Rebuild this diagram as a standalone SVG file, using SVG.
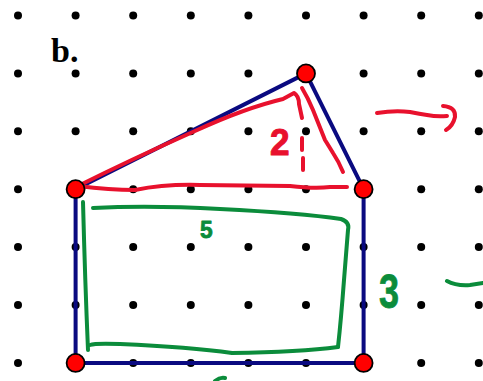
<svg xmlns="http://www.w3.org/2000/svg" width="483" height="381" viewBox="0 0 483 381">
<style>
.dot{fill:#000}
.blue{stroke:#0a0a80;stroke-width:4;fill:none;stroke-linecap:round;stroke-linejoin:round}
.red{stroke:#e8112d;stroke-width:4;fill:none;stroke-linecap:round;stroke-linejoin:round}
.green{stroke:#0b8c3b;stroke-width:4;fill:none;stroke-linecap:round;stroke-linejoin:round}
.vtx{fill:#ff0000;stroke:#000;stroke-width:1.8}
.hand{font-family:"Liberation Sans","DejaVu Sans",sans-serif;font-weight:bold;stroke-linejoin:round}
</style>
<defs>
<g id="row">
<circle class="dot" cx="18" cy="0" r="4"/><circle class="dot" cx="75.6" cy="0" r="4"/><circle class="dot" cx="133.2" cy="0" r="4"/><circle class="dot" cx="190.8" cy="0" r="4"/><circle class="dot" cx="248.4" cy="0" r="4"/><circle class="dot" cx="306" cy="0" r="4"/><circle class="dot" cx="363.6" cy="0" r="4"/><circle class="dot" cx="421.2" cy="0" r="4"/><circle class="dot" cx="478.8" cy="0" r="4"/>
</g>
</defs>
<rect width="483" height="381" fill="#fff"/>
<g id="grid">
<use href="#row" y="15.5"/><use href="#row" y="73.4"/><use href="#row" y="131.3"/><use href="#row" y="189.2"/><use href="#row" y="247.1"/><use href="#row" y="305"/><use href="#row" y="362.9"/>
</g>
<text x="51" y="62" font-family="'Liberation Serif',serif" font-weight="bold" font-size="34">b.</text>
<g id="connectors">
<path class="blue" d="M75.6,189.2 L306,73.4 L363.6,189.2 L363.6,362.9 L75.6,362.9 Z M75.6,189.2 L75.6,362.9"/>
</g>
<g id="annotations">
<path class="red" d="M78,186 Q130,160 195,131 Q245,108 283,99 L294,93 Q299,96 299,104 L302,118"/>
<path class="red" d="M302,138 L302,150 M303,158 L303,170"/>
<path class="red" d="M302,88 Q308,98 313,110 L325,140 Q330,148 333,153 Q339,162 343,172"/>
<path class="red" d="M78,186 Q110,190 135,190 Q165,184 200,185 L290,186 Q315,189 330,187 L347,187"/>
<path class="red" d="M377,113 Q395,110 410,112 Q420,114 427,115 Q437,117 447,116 M443,106 Q456,107 455,117 Q453,126 446,130"/>
<path class="green" d="M83,202 Q85,280 88,350"/>
<path class="green" d="M93,208 Q150,205 220,209 Q300,213 341,219 Q350,222 348,230 L344,280 Q341,320 338,347"/>
<path class="green" d="M90,345 Q95,343 120,344 Q190,347 232,353 Q300,352 338,347"/>
<path class="green" d="M447,281 Q456,286 470,285 L483,283"/>
<path class="green" d="M215,381 Q220,377 225,378"/>
<text class="hand" transform="translate(270,155) scale(0.95,1)" font-size="37" fill="#e8112d" stroke="#e8112d" stroke-width="1">2</text>
<text class="hand" transform="translate(200,238) scale(0.95,1)" font-size="24" fill="#0b8c3b" stroke="#0b8c3b" stroke-width="0.8">5</text>
<text class="hand" transform="translate(379,308) scale(0.75,1)" font-size="48" fill="#0b8c3b" stroke="#0b8c3b" stroke-width="0.8">3</text>
</g>
<g id="v-top"><circle class="vtx" cx="306" cy="73.4" r="9"/></g>
<g id="v-tl"><circle class="vtx" cx="75.6" cy="189.2" r="9"/></g>
<g id="v-tr"><circle class="vtx" cx="363.6" cy="189.2" r="9"/></g>
<g id="v-bl"><circle class="vtx" cx="75.6" cy="362.9" r="9"/></g>
<g id="v-br"><circle class="vtx" cx="363.6" cy="362.9" r="9"/></g>
</svg>
